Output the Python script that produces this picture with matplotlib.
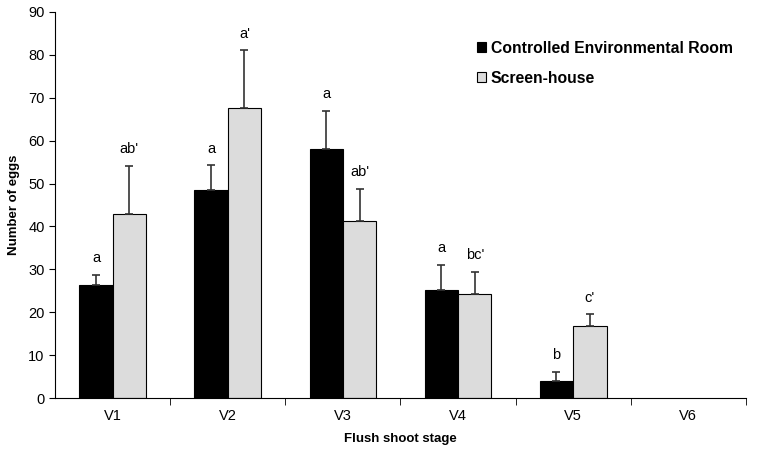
import numpy as np
import matplotlib.pyplot as plt

plt.rcParams['font.family'] = ['Liberation Sans', 'DejaVu Sans']

stages = ['V1', 'V2', 'V3', 'V4', 'V5', 'V6']
room = [26.3, 48.5, 58.0, 25.2, 4.0, 0]
room_err = [2.4, 5.7, 9.0, 5.8, 2.2, 0]
house = [43.0, 67.7, 41.3, 24.3, 16.8, 0]
house_err = [11.0, 13.3, 7.4, 5.2, 2.7, 0]
room_letters = ['a', 'a', 'a', 'a', 'b', '']
house_letters = ["ab'", "a'", "ab'", "bc'", "c'", '']

fig = plt.figure(figsize=(7.65, 4.55), dpi=100)
ax = fig.add_axes([0.072, 0.125, 0.903, 0.849])

x = np.arange(len(stages))
w = 0.29
ek = dict(ecolor='#333333', elinewidth=1.2, capsize=3, capthick=1.2)

# only stages with eggs get a bar (V6 has none)
r = np.array(room) > 0
h = np.array(house) > 0
ax.bar(x[r] - w/2, np.array(room)[r], w, color='black', edgecolor='black', linewidth=0.8,
       yerr=[np.zeros(r.sum()), np.array(room_err)[r]], error_kw=ek,
       label='Controlled Environmental Room')
ax.bar(x[h] + w/2, np.array(house)[h], w, color='#dcdcdc', edgecolor='black', linewidth=0.8,
       yerr=[np.zeros(h.sum()), np.array(house_err)[h]], error_kw=ek,
       label='Screen-house')

for i in range(len(stages)):
    if room_letters[i]:
        ax.text(x[i] - w/2, room[i] + room_err[i] + 2.3, room_letters[i],
                ha='center', va='bottom', fontsize=10.5)
    if house_letters[i]:
        ax.text(x[i] + w/2, house[i] + house_err[i] + 2.3, house_letters[i],
                ha='center', va='bottom', fontsize=10.5)

ax.set_xlim(-0.5, 5.5)
ax.set_ylim(0, 90)
ax.set_yticks(range(0, 91, 10))
ax.set_xticks(x)
ax.set_xticklabels(stages)
ax.set_xticks(np.arange(0.5, 5.6, 1), minor=True)
ax.tick_params(axis='x', which='major', length=0, labelsize=10.5, pad=8)
ax.tick_params(axis='x', which='minor', length=5, direction='out')
ax.tick_params(axis='y', length=4, direction='out', labelsize=10.5)
for s in ['top', 'right']:
    ax.spines[s].set_visible(False)

ax.set_xlabel('Flush shoot stage', fontsize=9.5, fontweight='bold', labelpad=7)
ax.set_ylabel('Number of eggs', fontsize=9.5, fontweight='bold', labelpad=6)

leg = ax.legend(loc='upper left', bbox_to_anchor=(0.591, 0.962), frameon=False,
                prop={'weight': 'bold', 'size': 11.3}, handlelength=0.55,
                handleheight=0.55, handletextpad=0.3, labelspacing=0.95)

fig.savefig('out.png', dpi=100)
